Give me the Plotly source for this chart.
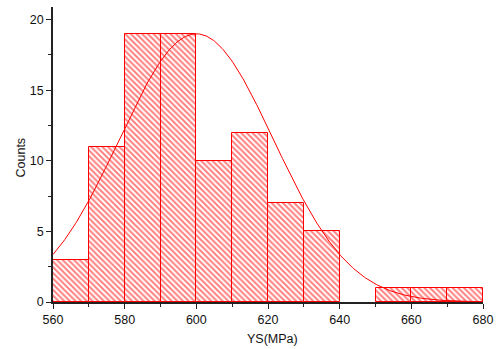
import numpy as np
import plotly.graph_objects as go

# Histogram of yield strength
bin_starts = [560, 570, 580, 590, 600, 610, 620, 630, 640, 650, 660, 670]
bin_width = 10
counts = [3, 11, 19, 19, 10, 12, 7, 5, 0, 1, 1, 1]

# Gaussian fit parameters
fit_mean = 600.0
fit_sd = 21.5
fit_peak = 19.0

x_ticks = [560, 580, 600, 620, 640, 660, 680]
y_ticks = [0, 5, 10, 15, 20]

# empty bins are left undrawn
centers = [s + bin_width / 2 for s, c in zip(bin_starts, counts) if c > 0]
heights = [c for c in counts if c > 0]

xs = np.linspace(560, 680, 400)
ys = fit_peak * np.exp(-((xs - fit_mean) ** 2) / (2 * fit_sd ** 2))

red = "#FF0000"
fig = go.Figure()
fig.add_trace(go.Bar(
    x=centers, y=heights, width=bin_width,
    marker=dict(
        color="white",
        line=dict(color=red, width=1),
        pattern=dict(shape="\\", fgcolor=red, bgcolor="white", size=4, solidity=0.5),
    ),
    showlegend=False,
))
fig.add_trace(go.Scatter(
    x=xs, y=ys, mode="lines",
    line=dict(color=red, width=1), showlegend=False,
))

axis_font = dict(family="Liberation Sans, Arial, sans-serif", size=12.5, color="#111")
common = dict(
    ticks="outside", ticklen=5, tickwidth=1, tickcolor="#222",
    showline=True, linecolor="#222", linewidth=1.5,
    showgrid=False, zeroline=False, tickfont=axis_font,
    layer="above traces", automargin=False,
)
fig.update_layout(
    width=497, height=349,
    margin=dict(l=53, r=14, t=7, b=47),
    plot_bgcolor="white", paper_bgcolor="white",
    bargap=0,
    font=axis_font,
    xaxis=dict(
        range=[560, 680], tickvals=x_ticks,
        minor=dict(dtick=10, ticks="outside", ticklen=3, tickcolor="#222"),
        **common,
    ),
    yaxis=dict(
        range=[0, 20.9], tickvals=y_ticks,
        minor=dict(dtick=2.5, ticks="outside", ticklen=3, tickcolor="#222"),
        **common,
    ),
    annotations=[
        dict(text="YS(MPa)", xref="paper", yref="paper", x=0.5, y=0,
             xanchor="center", yanchor="middle", yshift=-37, xshift=4,
             showarrow=False, font=axis_font),
        dict(text="Counts", xref="paper", yref="paper", x=0, y=0.5,
             xanchor="center", yanchor="middle", xshift=-33, yshift=-3,
             textangle=-90, showarrow=False, font=axis_font),
    ],
)

fig.write_html("out.html")
